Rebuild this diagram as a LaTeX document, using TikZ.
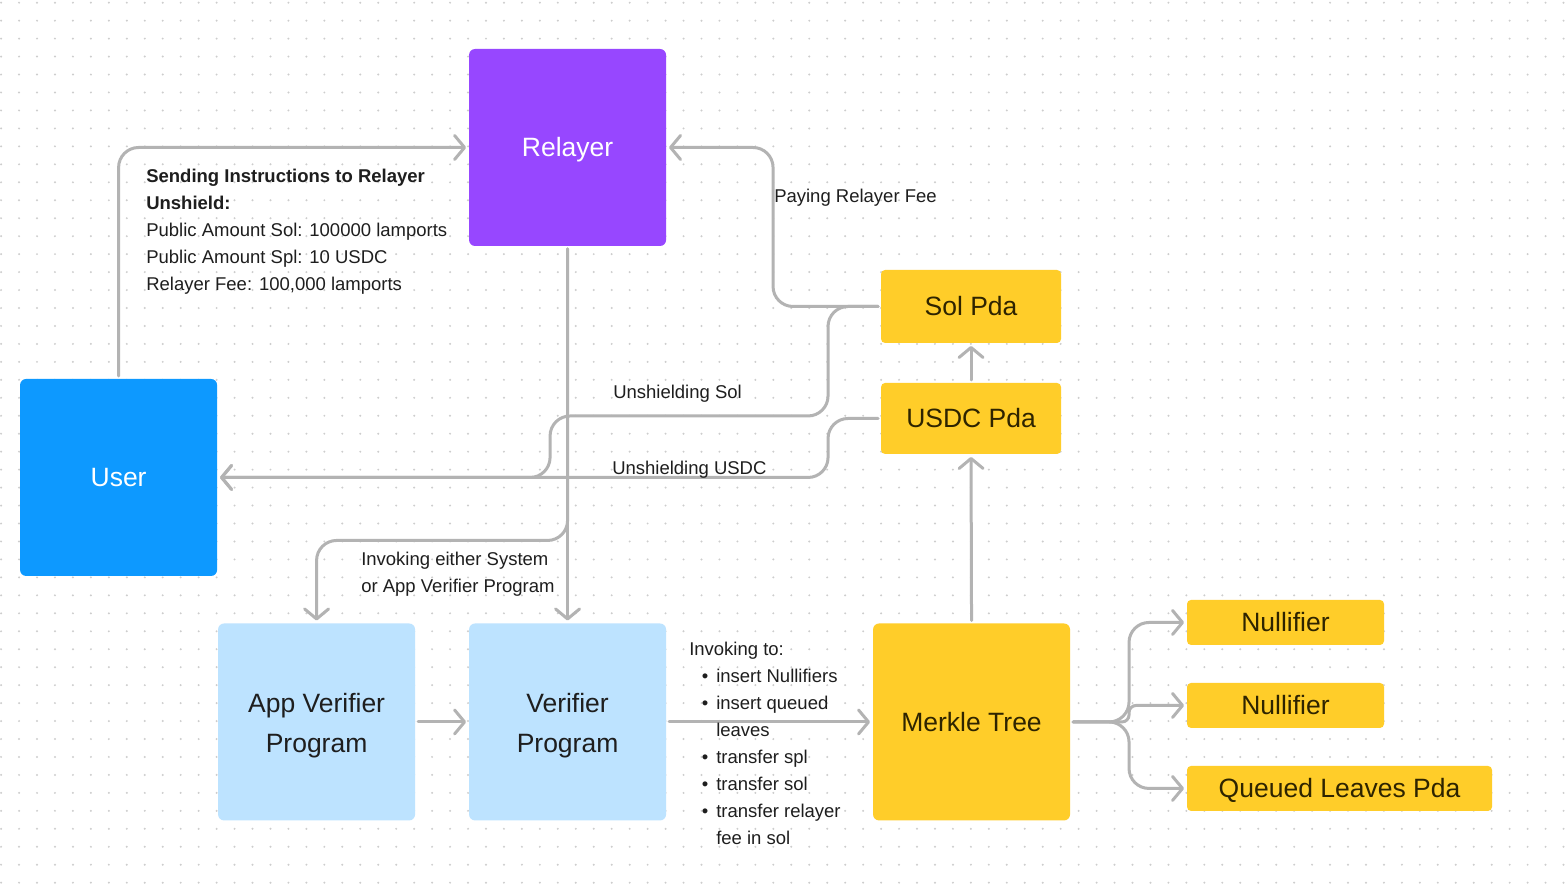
\documentclass[tikz,border=0pt]{standalone}
\usepackage{fontspec}
\setmainfont{Liberation Sans}
\usepackage{tikz}
\usetikzlibrary{positioning}
\usetikzlibrary{arrows.meta}

\definecolor{relayerpurple}{HTML}{9747FF}
\definecolor{userblue}{HTML}{0D99FF}
\definecolor{progblue}{HTML}{BDE3FF}
\definecolor{pdayellow}{HTML}{FFCD29}
\definecolor{linkgray}{HTML}{B3B3B3}
\definecolor{dotgray}{HTML}{CDCDCD}
\definecolor{inktext}{HTML}{1E1E1E}
\definecolor{pdatext}{HTML}{2E2400}

\newcommand{\bul}{\makebox[27pt][r]{\textbullet\hspace{8pt}}}
\newcommand{\hang}{\hspace{27pt}}

\begin{document}
\begin{tikzpicture}[x=1pt,y=-1pt,
  big/.style={rounded corners=6pt,minimum width=197pt,minimum height=197pt,outer sep=3pt,font=\fontsize{26.5}{40}\selectfont,align=center},
  oneline/.style={text height=19pt,text depth=0pt},
  twoline/.style={text height=61pt,text depth=0pt},
  small/.style={rounded corners=4pt,fill=pdayellow,text=pdatext,outer sep=3pt,font=\fontsize{26.5}{32}\selectfont,text height=19pt,text depth=0pt},
  link/.style={draw=linkgray,line width=3pt,rounded corners=20pt,line cap=round,-{Straight Barb[length=10pt,width=24pt,round]}},
  note/.style={text=inktext,font=\fontsize{18.5}{27}\selectfont,inner sep=0pt,align=left}]

  % canvas
  \fill[white] (0,0) rectangle (1566,896);
  \foreach \j in {0,...,49}
    \fill[dotgray] \foreach \i in {0,...,87} {(1+17.96*\i,2.7+17.96*\j) circle (1.1pt)};
  \useasboundingbox (0,0) rectangle (1566,896);

  % boxes
  \node [big,oneline,fill=relayerpurple,text=white] (relayer) at (567.5,147.5) {Relayer};
  \node [big,oneline,fill=userblue,text=white]      (user)    at (118.5,477.5) {User};
  \node [big,twoline,fill=progblue,text=inktext]    (appverifier) at (316.5,722) {App Verifier\\Program};
  \node [big,twoline,fill=progblue,text=inktext]    (verifier)    at (567.5,722) {Verifier\\Program};
  \node [big,oneline,fill=pdayellow,text=pdatext]   (merkle)  at (971.5,722) {Merkle Tree};

  \node [small,minimum width=180pt,minimum height=73pt] (solpda)  at (971,306.5) {Sol Pda};
  \node [small,minimum width=180pt,minimum height=71pt] (usdcpda) at (971,418.5) {USDC Pda};
  \node [small,minimum width=197pt,minimum height=45pt] (nulla)   at (1285.5,622.5) {Nullifier};
  \node [small,minimum width=197pt,minimum height=45pt] (nullb)   at (1285.5,705.5) {Nullifier};
  \node [small,minimum width=305pt,minimum height=45pt] (queued)  at (1339.5,788.5) {Queued Leaves Pda};

  % connectors
  \draw [link] (user.north) |- (relayer.west);
  \draw [link] (relayer.south) -- (verifier.north);
  \draw [link] (relayer.south) |- ([yshift=80pt]appverifier.north) -- (appverifier.north);
  \draw [link] (solpda.west) -- ++(-105,0) |- (relayer.east);
  \draw [link] (solpda.west) -| (828,416) -| (550,477.5) -- (user.east);
  \draw [link] (usdcpda.west) -| (828,477.5) -- (user.east);
  \draw [link] (usdcpda.north) -- (solpda.south);
  \draw [link] (merkle.north) -- (usdcpda.south);
  \draw [link] (appverifier.east) -- (verifier.west);
  \draw [link] (verifier.east) -- (merkle.west);
  \foreach \leaf in {nulla,queued}
    \draw [link] (merkle.east) -| ([xshift=-55pt]\leaf.west) -- (\leaf.west);
  \draw [link,rounded corners=7pt] (merkle.east) -| ([xshift=-55pt]nullb.west) -- (nullb.west);

  % labels (base = last line)
  \node [note,anchor=base west] (sending) at (146,291)
    {\textbf{Sending Instructions to Relayer}\\\textbf{Unshield:}\\Public Amount Sol: 100000 lamports\\Public Amount Spl: 10 USDC\\Relayer Fee: 100,000 lamports};
  \node [note,anchor=base west] (feelbl)  at (774,202.7) {Paying Relayer Fee};
  \node [note,anchor=base west] (sollbl)  at (613,399)   {Unshielding Sol};
  \node [note,anchor=base west] (usdclbl) at (612,475)   {Unshielding USDC};
  \node [note,anchor=base west] (invlbl)  at (361,592.7) {Invoking either System\\or App Verifier Program};
  \node [note,anchor=base west] (tolbl)   at (689,845)
    {Invoking to:\\\bul insert Nullifiers\\\bul insert queued\\\hang leaves\\\bul transfer spl\\\bul transfer sol\\\bul transfer relayer\\\hang fee in sol};
\end{tikzpicture}
\end{document}
